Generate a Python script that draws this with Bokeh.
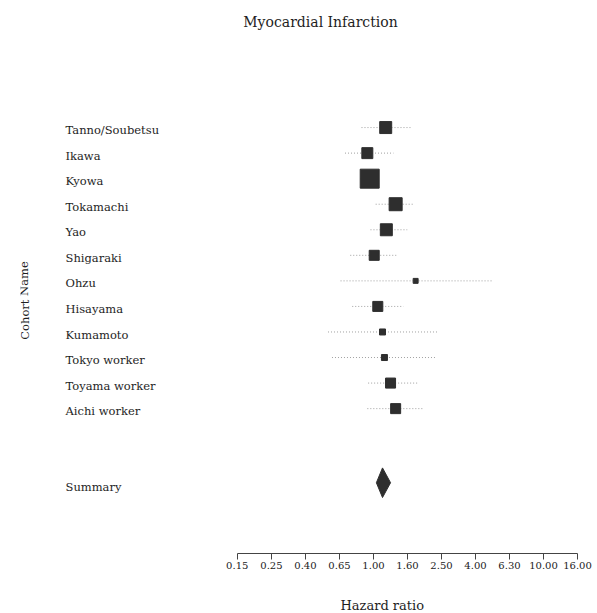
from bokeh.plotting import figure
from bokeh.models import (ColumnDataSource, Range1d, FixedTicker, Label, LinearScale,
                          LogAxis, Title)
from bokeh.core.properties import value
from bokeh.embed import file_html
from bokeh.resources import INLINE

# ---- data ----
COHORTS = ["Tanno/Soubetsu", "Ikawa", "Kyowa", "Tokamachi", "Yao", "Shigaraki",
           "Ohzu", "Hisayama", "Kumamoto", "Tokyo worker", "Toyama worker", "Aichi worker"]
HR = [1.18, 0.92, 0.95, 1.35, 1.19, 1.01, 1.77, 1.06, 1.13, 1.16, 1.26, 1.35]
LOWER = [0.85, 0.68, 0.84, 1.03, 0.96, 0.73, 0.64, 0.75, 0.54, 0.57, 0.93, 0.92]
UPPER = [1.65, 1.31, 1.07, 1.72, 1.58, 1.38, 5.08, 1.50, 2.41, 2.32, 1.81, 1.97]
WEIGHT = [10.0, 8.4, 25.1, 11.8, 10.0, 7.0, 1.7, 7.0, 2.5, 2.5, 7.0, 7.0]
ROW = [1, 2, 3, 4, 5, 6, 7, 8, 9, 10, 11, 12]

SUMMARY_LABEL = "Summary"
SUMMARY_HR = 1.13
SUMMARY_LOWER = 1.04
SUMMARY_UPPER = 1.26
SUMMARY_ROW = 15

TICK_VALUES = [0.158, 0.251, 0.398, 0.631, 1.0, 1.585, 2.512, 3.981, 6.31, 10.0, 15.85]
TICK_LABELS = ["0.15", "0.25", "0.40", "0.65", "1.00", "1.60", "2.50", "4.00",
               "6.30", "10.00", "16.00"]

TITLE = "Myocardial Infarction"
X_LABEL = "Hazard ratio"
Y_LABEL = "Cohort Name"

FONT = "DejaVu Serif"
DARK = "#2e2e2e"
TXT = "#1e1e1e"

p = figure(width=597, height=613, output_backend="svg", toolbar_location=None,
           x_axis_type="log", x_axis_location="below", y_axis_location=None,
           x_range=Range1d(0.008387, 18.65), y_range=Range1d(17.67, -3.66),
           min_border_left=20, min_border_right=8, min_border_top=8,
           min_border_bottom=60)
p.outline_line_color = None
p.grid.visible = False
p.background_fill_color = "white"
p.border_fill_color = "white"

# page-pixel helper ranges (linear) for free text placement
p.extra_x_ranges = {"px": Range1d(20, 589)}
p.extra_x_scales = {"px": LinearScale()}
p.extra_y_ranges = {"py": Range1d(553, 8)}
p.extra_y_scales = {"py": LinearScale()}

# x axis
ax = p.xaxis[0]
ax.ticker = FixedTicker(ticks=TICK_VALUES, minor_ticks=[])
ax.major_label_overrides = {v: s for v, s in zip(TICK_VALUES, TICK_LABELS)}
ax.bounds = (TICK_VALUES[0], TICK_VALUES[-1])
ax.major_tick_in = 0
ax.major_tick_out = 6
ax.minor_tick_in = 0
ax.minor_tick_out = 0
ax.axis_line_color = "#444444"
ax.major_tick_line_color = "#444444"
ax.major_label_text_font = FONT
ax.major_label_text_font_size = "10px"
ax.major_label_text_color = "#222222"
ax.major_label_standoff = 2

# white, blank spacer axis (one white tick in the empty left area) that pushes
# the axis title down to the bottom edge
SPACER_TICK = 0.02
ax2 = LogAxis(ticker=FixedTicker(ticks=[SPACER_TICK], minor_ticks=[]),
              axis_line_color=None, major_tick_out=19, major_tick_in=0,
              major_tick_line_color="white", minor_tick_out=0, minor_tick_in=0,
              major_label_overrides={SPACER_TICK: " "}, major_label_standoff=0,
              major_label_text_font_size="1px", major_label_text_color="white")
p.add_layout(ax2, "below")

# axis title, centred under the tick span via offset from the frame's left edge
p.add_layout(Title(text=X_LABEL, align="left", offset=320, standoff=2,
                   text_font=FONT, text_font_size="13px", text_font_style="normal",
                   text_color=TXT), "below")

src = ColumnDataSource(dict(cohort=COHORTS, hr=HR, lo=LOWER, hi=UPPER,
                            w=WEIGHT, row=ROW,
                            size=[3.79 * (w ** 0.5) for w in WEIGHT]))

# CI whiskers
p.segment(x0="lo", x1="hi", y0="row", y1="row", source=src,
          line_color="#a0a0a0", line_width=1, line_dash="1 2")
# weight squares
p.scatter(x="hr", y="row", size="size", marker="square", source=src,
          fill_color=DARK, line_color=DARK, line_width=1)

# summary diamond
h = 0.58
yc = SUMMARY_ROW - 0.1
p.patch(x=[SUMMARY_LOWER, SUMMARY_HR, SUMMARY_UPPER, SUMMARY_HR],
        y=[yc, yc - h, yc, yc + h],
        fill_color=DARK, line_color=DARK)

# cohort labels
p.text(x=65, y=[r + 0.1 for r in ROW], text=COHORTS, x_range_name="px",
       text_font=value(FONT), text_font_size="11.5px", text_baseline="middle",
       text_align="left", text_color=TXT)
p.text(x=[65], y=[SUMMARY_ROW + 0.05], text=[SUMMARY_LABEL], x_range_name="px",
       text_font=value(FONT), text_font_size="11.5px", text_baseline="middle",
       text_align="left", text_color=TXT)

p.add_layout(Label(x=320, y=21, text=TITLE, x_range_name="px", y_range_name="py",
                   text_font=FONT, text_font_size="14px", text_align="center",
                   text_baseline="middle", text_color=TXT))
p.add_layout(Label(x=24, y=300, text=Y_LABEL, x_range_name="px", y_range_name="py",
                   angle=1.5708, text_font=FONT, text_font_size="11.5px",
                   text_align="center", text_baseline="middle", text_color=TXT))

open("out.html", "w").write(file_html(p, INLINE))
